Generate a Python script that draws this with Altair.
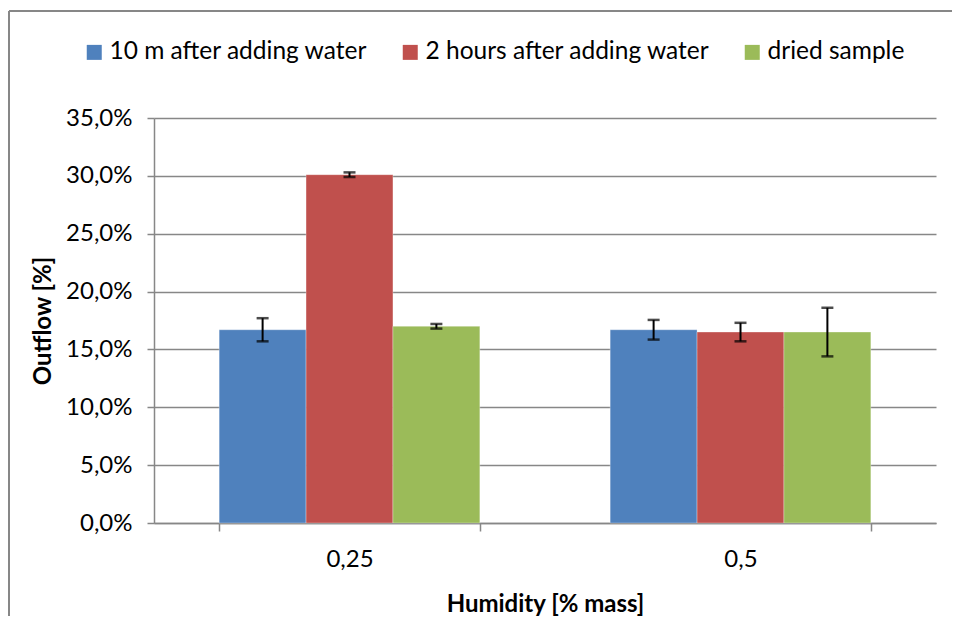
import altair as alt
import pandas as pd

categories = ["0,25", "0,5"]
series = ["10 m after adding water", "2 hours after adding water", "dried sample"]
colors = ["#4F81BD", "#C0504D", "#9BBB59"]
values_025 = [16.7, 30.1, 17.0]
values_05 = [16.7, 16.5, 16.5]
errors_025 = [1.0, 0.2, 0.2]
errors_05 = [0.85, 0.8, 2.1]

rows = []
for cat, vals, errs in [(categories[0], values_025, errors_025), (categories[1], values_05, errors_05)]:
    for s, v, e in zip(series, vals, errs):
        rows.append({"cat": cat, "series": s, "value": v / 100, "lo": (v - e) / 100, "hi": (v + e) / 100})
df = pd.DataFrame(rows)

FONT = "Lato"
GRID = "#878787"

x = alt.X("cat:N", sort=categories, title="Humidity [% mass]",
          scale=alt.Scale(paddingInner=1/3, paddingOuter=1/6),
          axis=alt.Axis(labelAngle=0, tickBand="extent", tickSize=8, tickColor=GRID, tickWidth=1.5,
                        domainColor=GRID, domainWidth=1.5, labelPadding=16, titlePadding=21,
                        labelFontSize=24, titleFontSize=24, titleFontWeight="bold",
                        labelFont=FONT, titleFont=FONT, labelColor="black", titleColor="black"))
xo = alt.XOffset("series:N", sort=series, scale=alt.Scale(paddingInner=0, paddingOuter=0))

bars = alt.Chart(df).mark_bar(stroke="white", strokeWidth=0.5, strokeOpacity=0.6).encode(
    x=x, xOffset=xo,
    y=alt.Y("value:Q", title="Outflow [%]",
            scale=alt.Scale(domain=[0, 0.35]),
            axis=alt.Axis(values=[0, 0.05, 0.1, 0.15, 0.2, 0.25, 0.3, 0.35],
                          labelExpr="replace(format(datum.value, '.1%'), '.', ',')",
                          gridColor=GRID, gridWidth=1.5, domainColor=GRID, domainWidth=1.5,
                          tickColor=GRID, tickWidth=1.5,
                          tickSize=7, labelPadding=15, titlePadding=10,
                          labelFontSize=24, titleFontSize=24, titleFontWeight="bold",
                          labelFont=FONT, titleFont=FONT, labelColor="black", titleColor="black")),
    color=alt.Color("series:N", sort=series,
                    scale=alt.Scale(domain=series, range=colors),
                    legend=alt.Legend(title=None, orient="none", direction="horizontal",
                                      legendX=-72, legendY=-78, padding=0, symbolType="square",
                                      symbolSize=225, symbolStrokeWidth=0, labelFontSize=24.5,
                                      labelFont=FONT, labelColor="black", columnPadding=30,
                                      labelOffset=3, labelLimit=0)),
)

rules = alt.Chart(df).mark_rule(color="black", strokeWidth=2).encode(
    x=x, xOffset=xo, y="lo:Q", y2="hi:Q")
caps_lo = alt.Chart(df).mark_tick(color="black", thickness=2.5, size=12).encode(
    x=x, xOffset=xo, y="lo:Q")
caps_hi = alt.Chart(df).mark_tick(color="black", thickness=2.5, size=12).encode(
    x=x, xOffset=xo, y="hi:Q")

frame_top = alt.Chart(df).mark_rule(color=GRID, strokeWidth=1.5, clip=False).encode(
    x=alt.value(-145), x2=alt.value(800), y=alt.value(-107))
frame_left = alt.Chart(df).mark_rule(color=GRID, strokeWidth=1.5, clip=False).encode(
    x=alt.value(-145), y=alt.value(-107), y2=alt.value(500))

chart = alt.layer(frame_top, frame_left, bars, rules, caps_lo, caps_hi).properties(
    width=782, height=405,
    autosize=alt.AutoSizeParams(type="none"),
    padding={"left": 146, "top": 110, "right": 16, "bottom": 93},
).configure_view(stroke=None).configure_axis(grid=False).configure_axisY(grid=True)

chart.save("out.html", embed_options={"renderer": "svg", "actions": False})
